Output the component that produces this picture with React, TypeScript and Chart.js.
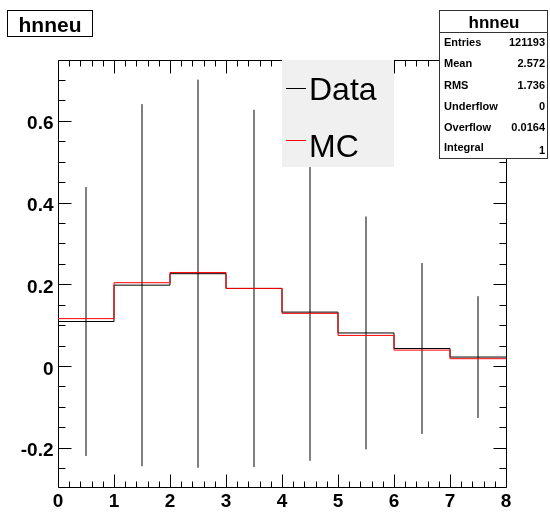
import React, { useEffect, useRef } from 'react';
import { Chart, registerables } from 'chart.js';

Chart.register(...registerables);

const FONT = '"Liberation Sans", Arial, Helvetica, sans-serif';

// ---- data ----
const binEdges = [0, 1, 2, 3, 4, 5, 6, 7, 8];
const dataValues = [0.109, 0.198, 0.226, 0.19, 0.132, 0.081, 0.043, 0.022];
const dataErrors = [0.329, 0.443, 0.475, 0.437, 0.364, 0.285, 0.209, 0.149];
const mcValues = [0.116, 0.204, 0.229, 0.19, 0.129, 0.075, 0.039, 0.018];

const xTickValues = [0, 1, 2, 3, 4, 5, 6, 7, 8];
const xTickLabels = ['0', '1', '2', '3', '4', '5', '6', '7', '8'];
const yTickValues = [-0.2, 0, 0.2, 0.4, 0.6];
const yTickLabels = ['-0.2', '0', '0.2', '0.4', '0.6'];
const yMin = -0.296;
const yMax = 0.749;

const histTitle = 'hnneu';
const statLabels = ['Entries', 'Mean', 'RMS', 'Underflow', 'Overflow', 'Integral'];
const statValues = ['121193', '2.572', '1.736', '0', '0.0164', '1'];
const legendLabels = ['Data', 'MC'];
const legendColors = ['#000000', '#ff0000'];

function stepPoints(values: number[]) {
  return binEdges.map((x, i) => ({ x, y: values[Math.min(i, values.length - 1)] }));
}

function errorPoints(values: number[], errors: number[]) {
  const pts: { x: number; y: number | null }[] = [];
  values.forEach((v, i) => {
    const c = (binEdges[i] + binEdges[i + 1]) / 2;
    pts.push({ x: c, y: v - errors[i] });
    pts.push({ x: c, y: v + errors[i] });
    pts.push({ x: c, y: null });
  });
  return pts;
}

const framePlugin = {
  id: 'rootFrame',
  beforeDatasetsDraw(chart: any) {
    const { ctx, chartArea } = chart;
    const xs = chart.scales.x;
    const ys = chart.scales.y;
    const L = Math.round(chartArea.left) + 0.5;
    const R = Math.round(chartArea.right) + 0.5;
    const T = Math.round(chartArea.top) + 0.5;
    const B = Math.round(chartArea.bottom) + 0.5;
    ctx.save();
    ctx.strokeStyle = '#000';
    ctx.lineWidth = 1;
    ctx.beginPath();
    ctx.rect(L, T, R - L, B - T);
    ctx.stroke();
    // x ticks (major every 1, minor every 0.2)
    ctx.beginPath();
    for (let k = 0; k <= 40; k++) {
      const v = k * 0.2;
      const px = Math.round(xs.getPixelForValue(v)) + 0.5;
      const len = k % 5 === 0 ? 13 : 6;
      ctx.moveTo(px, B);
      ctx.lineTo(px, B - len);
      ctx.moveTo(px, T);
      ctx.lineTo(px, T + len);
    }
    // y ticks (major 0.2, minor 0.05)
    for (let k = -5; k <= 14; k++) {
      const v = k * 0.05;
      if (v < yMin || v > yMax) continue;
      const py = Math.round(ys.getPixelForValue(v)) + 0.5;
      const len = k % 4 === 0 ? 13 : 7;
      ctx.moveTo(L, py);
      ctx.lineTo(L + len, py);
      ctx.moveTo(R, py);
      ctx.lineTo(R - len, py);
    }
    ctx.stroke();
    // labels
    ctx.fillStyle = '#000';
    ctx.font = `bold 19px ${FONT}`;
    ctx.textAlign = 'center';
    ctx.textBaseline = 'alphabetic';
    xTickValues.forEach((v, i) => {
      ctx.fillText(xTickLabels[i], xs.getPixelForValue(v), 507);
    });
    ctx.textAlign = 'right';
    yTickValues.forEach((v, i) => {
      ctx.fillText(yTickLabels[i], 53.5, ys.getPixelForValue(v) + 8.5);
    });
    ctx.restore();
  },
  afterDatasetsDraw(chart: any) {
    const { ctx } = chart;
    ctx.save();
    // legend
    ctx.fillStyle = '#f0f0f0';
    ctx.fillRect(282, 60, 112, 107);
    ctx.lineWidth = 1;
    const ly = [88.5, 140.5];
    const lb = [100, 157];
    legendLabels.forEach((lab, i) => {
      ctx.strokeStyle = legendColors[i];
      ctx.beginPath();
      ctx.moveTo(286, ly[i]);
      ctx.lineTo(306, ly[i]);
      ctx.stroke();
      ctx.fillStyle = '#000';
      ctx.font = `32px ${FONT}`;
      ctx.textAlign = 'left';
      ctx.textBaseline = 'alphabetic';
      ctx.fillText(lab, 309, lb[i]);
    });
    // title box
    ctx.fillStyle = '#fff';
    ctx.fillRect(7, 10, 85, 26);
    ctx.strokeStyle = '#000';
    ctx.strokeRect(7.5, 10.5, 85, 26);
    ctx.fillStyle = '#000';
    ctx.font = `bold 21px ${FONT}`;
    ctx.textAlign = 'center';
    ctx.fillText(histTitle, 50, 32);
    // stats box
    ctx.fillStyle = '#fff';
    ctx.fillRect(439, 10, 109, 149);
    ctx.strokeStyle = '#333';
    ctx.strokeRect(439.5, 10.5, 108, 148);
    ctx.beginPath();
    ctx.moveTo(439.5, 32.5);
    ctx.lineTo(547.5, 32.5);
    ctx.stroke();
    ctx.fillStyle = '#000';
    ctx.font = `bold 17px ${FONT}`;
    ctx.textAlign = 'center';
    ctx.fillText(histTitle, 494, 28);
    ctx.font = `bold 11px ${FONT}`;
    const rowY = [46, 67, 89, 110, 131, 152];
    statLabels.forEach((lab, i) => {
      ctx.textAlign = 'left';
      ctx.fillText(lab, 444, rowY[i] - (i === 5 ? 1 : 0));
      ctx.textAlign = 'right';
      ctx.fillText(statValues[i], 545, rowY[i] + (i === 5 ? 2 : 0));
    });
    ctx.restore();
  },
};

export default function App() {
  const ref = useRef<HTMLCanvasElement | null>(null);
  useEffect(() => {
    if (!ref.current) return;
    const chart = new Chart(ref.current, {
      type: 'line',
      data: {
        datasets: [
          {
            label: 'MC',
            data: stepPoints(mcValues),
            borderColor: '#ff0000',
            borderWidth: 1,
            stepped: 'before',
            pointRadius: 0,
            fill: false,
            order: 0,
          },
          {
            label: 'Data',
            data: stepPoints(dataValues),
            borderColor: '#000000',
            borderWidth: 1,
            stepped: 'before',
            pointRadius: 0,
            fill: false,
            order: 1,
          },
          {
            label: 'Data errors',
            data: errorPoints(dataValues, dataErrors),
            borderColor: '#000000',
            borderWidth: 1,
            pointRadius: 0,
            spanGaps: false,
            fill: false,
            order: 2,
          },
        ],
      },
      options: {
        animation: false,
        responsive: false,
        devicePixelRatio: 1,
        layout: { padding: { left: 58, right: 44, top: 60, bottom: 25 } },
        scales: {
          x: { type: 'linear', min: 0, max: 8, display: false },
          y: { type: 'linear', min: yMin, max: yMax, display: false },
        },
        plugins: { legend: { display: false }, tooltip: { enabled: false } },
      },
      plugins: [framePlugin],
    } as any);
    return () => chart.destroy();
  }, []);
  return (
    <div style={{ position: 'fixed', left: 0, top: 0, width: 550, height: 512, background: '#fff' }}>
      <canvas ref={ref} width={550} height={512} style={{ width: 550, height: 512 }} />
    </div>
  );
}
